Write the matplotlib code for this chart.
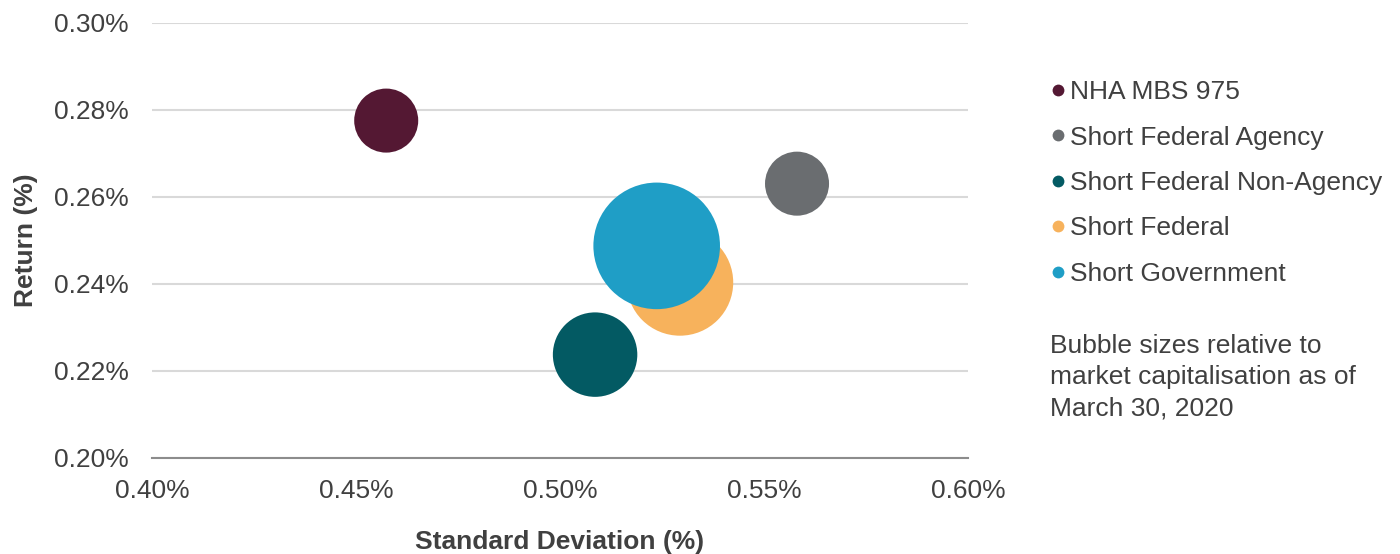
import matplotlib
matplotlib.use("Agg")
import matplotlib.pyplot as plt
from matplotlib.lines import Line2D
from matplotlib.ticker import FuncFormatter

plt.rcParams['font.family'] = ['Liberation Sans', 'DejaVu Sans']

# Risk / return per index (values in %)
names = ["NHA MBS 975", "Short Federal Agency", "Short Federal Non-Agency",
         "Short Federal", "Short Government"]
std_dev = [0.4574, 0.5581, 0.5086, 0.5294, 0.5237]
returns = [0.2775, 0.2630, 0.2237, 0.2403, 0.2487]
# relative market capitalisation (bubble area)
market_cap = [1.00, 1.00, 1.74, 2.77, 3.91]
colors = ["#541833", "#6A6D70", "#035A63", "#F7B25C", "#1F9EC6"]

x_ticks = [0.40, 0.45, 0.50, 0.55, 0.60]
y_ticks = [0.20, 0.22, 0.24, 0.26, 0.28, 0.30]

text_color = "#404040"
font_size = 19
base_size = 2125  # points^2 for market_cap == 1

fig = plt.figure(figsize=(14, 5.54), dpi=100)
ax = fig.add_axes([0.1086, 0.1738, 0.5828, 0.7852])

for n, x, y, m, c in zip(names, std_dev, returns, market_cap, colors):
    ax.scatter(x, y, s=base_size * m, color=c, edgecolors="none", zorder=3)

ax.set_xlim(x_ticks[0], x_ticks[-1])
ax.set_ylim(y_ticks[0], y_ticks[-1])
ax.set_xticks(x_ticks)
ax.set_yticks(y_ticks)
ax.xaxis.set_major_formatter(FuncFormatter(lambda v, p: f"{v:.2f}%"))
ax.yaxis.set_major_formatter(FuncFormatter(lambda v, p: f"{v:.2f}%"))
ax.tick_params(axis="both", length=0, labelsize=font_size, colors=text_color)
ax.tick_params(axis="y", pad=17)
ax.tick_params(axis="x", pad=15)

ax.grid(axis="y", color="#D9D9D9", linewidth=1.5, zorder=0)
ax.set_axisbelow(True)
for side in ["top", "right", "left"]:
    ax.spines[side].set_visible(False)
ax.spines["bottom"].set_color("#8C8C8C")
ax.spines["bottom"].set_linewidth(1.5)
ax.spines["bottom"].set_zorder(1)

ax.set_xlabel("Standard Deviation (%)", fontsize=font_size, fontweight="bold",
              color=text_color, labelpad=20)
ax.set_ylabel("Return (%)", fontsize=font_size, fontweight="bold",
              color=text_color, labelpad=11)

handles = [Line2D([0], [0], marker="o", linestyle="none", markersize=8.5,
                  markerfacecolor=c, markeredgecolor="none") for c in colors]
leg = fig.legend(handles, names, loc="upper left",
                 bbox_to_anchor=(0.740, 0.874), frameon=False,
                 fontsize=font_size, handletextpad=0.0, handlelength=0.9,
                 labelspacing=0.81, borderaxespad=0)
for t in leg.get_texts():
    t.set_color(text_color)

fig.text(0.750, 0.397, "Bubble sizes relative to\nmarket capitalisation as of\nMarch 30, 2020",
         fontsize=font_size, color=text_color, va="top", ha="left", linespacing=1.38)

fig.savefig("out.png", dpi=100)
